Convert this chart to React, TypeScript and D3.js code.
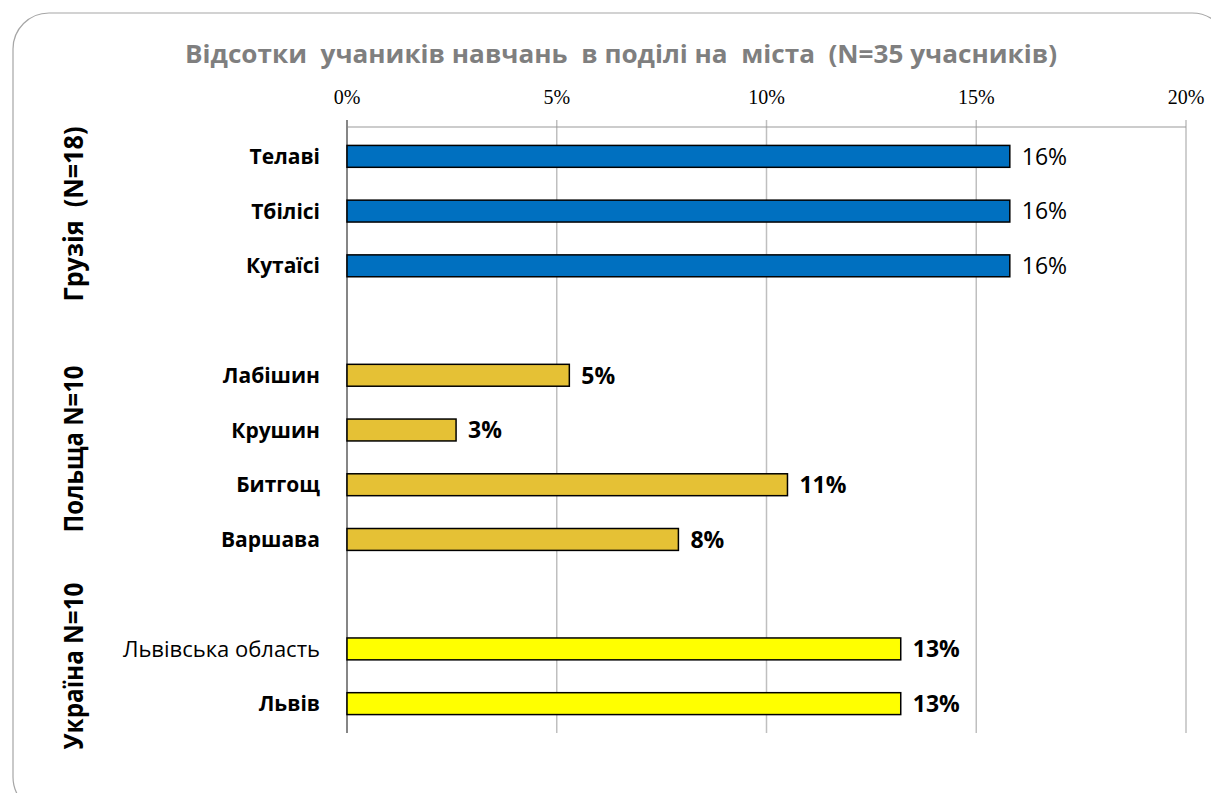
import * as d3 from 'd3';
import React, { useEffect, useRef } from 'react';

// cities top to bottom, '_gap' entries are the blank rows between countries
const cities = ['Телаві', 'Тбілісі', 'Кутаїсі', '_gap1', 'Лабішин', 'Крушин', 'Битгощ', 'Варшава', '_gap2', 'Львівська область', 'Львів'];
const shares = [15.8, 15.8, 15.8, 0, 5.3, 2.6, 10.5, 7.9, 0, 13.2, 13.2];
const valueLabels = ['16%', '16%', '16%', '', '5%', '3%', '11%', '8%', '', '13%', '13%'];
const country = ['ge', 'ge', 'ge', '', 'pl', 'pl', 'pl', 'pl', '', 'ua', 'ua'];

const groups = ['Грузія  (N=18)', 'Польща N=10', 'Україна N=10'];

const ticks = [0, 5, 10, 15, 20];

const colors: Record<string, string> = { ge: '#0070C0', pl: '#E5C135', ua: '#FFFF00' };

const title = 'Відсотки  учаників навчань  в поділі на  міста  (N=35 учасників)';

function App() {
    const ref = useRef<SVGSVGElement>(null);

    useEffect(() => {
        const W = 1211, H = 793;
        const svg = d3.select(ref.current);
        svg.selectAll('*').remove();
        svg.attr('width', W).attr('height', H);

        // outer frame (runs off the right and bottom edges)
        svg.append('rect')
            .attr('x', 13).attr('y', 13)
            .attr('width', 1215).attr('height', 800)
            .attr('rx', 36).attr('ry', 36)
            .attr('fill', 'white')
            .attr('stroke', '#a6a6a6')
            .attr('stroke-width', 1.2);

        svg.append('text')
            .attr('x', 621).attr('y', 63)
            .attr('text-anchor', 'middle')
            .attr('font-family', 'Open Sans, sans-serif')
            .attr('font-weight', 'bold')
            .attr('font-size', 25)
            .attr('fill', '#7f7f7f')
            .attr('textLength', 872)
            .attr('lengthAdjust', 'spacingAndGlyphs')
            .style('white-space', 'pre')
            .text(title);

        const left = 347, right = 1186, top = 127, bottom = 733;

        const x = d3.scaleLinear().domain([0, 20]).range([left, right]);
        const y = d3.scaleBand<string>()
            .domain(cities)
            .range([129, 731])
            .paddingInner(0.6)
            .paddingOuter(0.3);

        // grid lines + tick marks
        svg.append('g').selectAll('line')
            .data(ticks.slice(1))
            .enter()
            .append('line')
            .attr('x1', d => x(d)).attr('x2', d => x(d))
            .attr('y1', top - 7).attr('y2', bottom)
            .attr('stroke', '#bfbfbf')
            .attr('stroke-width', 1.5);

        svg.append('line')
            .attr('x1', left).attr('x2', right)
            .attr('y1', top).attr('y2', top)
            .attr('stroke', '#9a9a9a')
            .attr('stroke-width', 1.2);

        svg.append('line')
            .attr('x1', left).attr('x2', left)
            .attr('y1', top - 7).attr('y2', bottom)
            .attr('stroke', '#868686')
            .attr('stroke-width', 2);

        svg.append('g').selectAll('text')
            .data(ticks)
            .enter()
            .append('text')
            .attr('x', d => x(d))
            .attr('y', 104)
            .attr('text-anchor', 'middle')
            .attr('font-family', 'Liberation Serif, serif')
            .attr('font-size', 20)
            .attr('fill', 'black')
            .text(d => d + '%');

        const rows = cities.map((c, i) => ({ c, v: shares[i], label: valueLabels[i], k: country[i] }))
            .filter(d => d.k !== '');

        svg.append('g').selectAll('rect')
            .data(rows)
            .enter()
            .append('rect')
            .attr('x', x(0))
            .attr('y', d => y(d.c)!)
            .attr('width', d => x(d.v) - x(0))
            .attr('height', y.bandwidth())
            .attr('fill', d => colors[d.k])
            .attr('stroke', 'black')
            .attr('stroke-width', 1.5);

        // city names
        svg.append('g').selectAll('text')
            .data(rows)
            .enter()
            .append('text')
            .attr('x', 320)
            .attr('y', d => y(d.c)! + y.bandwidth() / 2)
            .attr('dy', '0.36em')
            .attr('text-anchor', 'end')
            .attr('font-family', 'Open Sans, sans-serif')
            .attr('font-weight', d => d.c === 'Львівська область' ? 'normal' : 'bold')
            .attr('font-size', d => d.c === 'Львівська область' ? 22 : 21)
            .attr('fill', 'black')
            .text(d => d.c);

        // value labels
        svg.append('g').selectAll('text')
            .data(rows)
            .enter()
            .append('text')
            .attr('x', d => x(d.v) + 12)
            .attr('y', d => y(d.c)! + y.bandwidth() / 2)
            .attr('dy', '0.36em')
            .attr('font-family', 'Open Sans, sans-serif')
            .attr('font-weight', d => d.k === 'ge' ? 'normal' : 'bold')
            .attr('font-size', 23)
            .attr('fill', 'black')
            .text(d => d.label);

        // country labels, rotated
        const groupY = [214, 449, 666];
        const groupLen = [175, 167, 167];
        svg.append('g').selectAll('text')
            .data(groups)
            .enter()
            .append('text')
            .attr('transform', (d, i) => 'translate(83,' + groupY[i] + ') rotate(-90)')
            .attr('text-anchor', 'middle')
            .attr('font-family', 'Open Sans, sans-serif')
            .attr('font-weight', 'bold')
            .attr('font-size', 27)
            .attr('fill', 'black')
            .attr('textLength', (d, i) => groupLen[i])
            .attr('lengthAdjust', 'spacingAndGlyphs')
            .style('white-space', 'pre')
            .text(d => d);
    }, []);

    return (
        <div style={{ position: 'absolute', left: 0, top: 0 }}>
            <svg ref={ref} style={{ display: 'block' }}></svg>
        </div>
    );
}

export default App;
